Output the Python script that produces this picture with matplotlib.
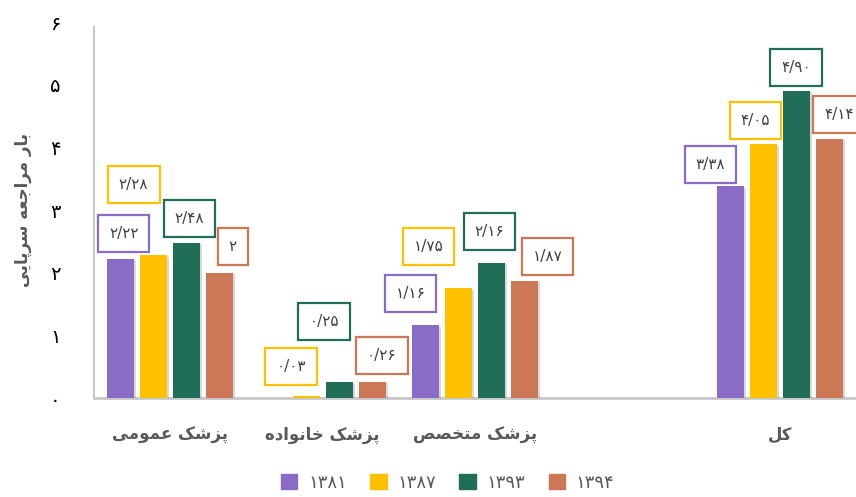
import numpy as np
import matplotlib
matplotlib.use('Agg')
import matplotlib.pyplot as plt
from matplotlib import patheffects
from matplotlib.patches import Patch

# data
categories = ['پزشک عمومی', 'پزشک خانواده', 'پزشک متخصص', '', 'کل']
years = ['۱۳۸۱', '۱۳۸۷', '۱۳۹۳', '۱۳۹۴']
v1381 = [2.22, 0.0, 1.16, 0.0, 3.38]
v1387 = [2.28, 0.03, 1.75, 0.0, 4.05]
v1393 = [2.48, 0.25, 2.16, 0.0, 4.90]
v1394 = [2.00, 0.26, 1.87, 0.0, 4.14]
labels1381 = ['۲/۲۲', '', '۱/۱۶', '', '۳/۳۸']
labels1387 = ['۲/۲۸', '۰/۰۳', '۱/۷۵', '', '۴/۰۵']
labels1393 = ['۲/۴۸', '۰/۲۵', '۲/۱۶', '', '۴/۹۰']
labels1394 = ['۲', '۰/۲۶', '۱/۸۷', '', '۴/۱۴']
ylabel = 'بار مراجعه سرپایی'
yticks = ['۰', '۱', '۲', '۳', '۴', '۵', '۶']

colors = ['#8a6bc6', '#ffc000', '#216e58', '#cc7755']

# label box placement (x offset in px from bar centre, y in data units)
label_pos = [
    [(3, 2.62), None, (-15, 1.66), None, (-20, 3.73)],
    [(-20, 3.40), (-15, 0.51), (-30, 2.42), None, (-8, 4.43)],
    [(3, 2.87), (-15, 1.22), (-2, 2.65), None, (0, 5.27)],
    [(13, 2.41), (10, 0.68), (23, 2.26), None, (10, 4.53)],
]

# minimal persian shaping (matplotlib does not shape arabic script)
forms = {
    'ا': ('\uFE8D', '\uFE8E', None, None),
    'ب': ('\uFE8F', '\uFE90', '\uFE91', '\uFE92'),
    'پ': ('\uFB56', '\uFB57', '\uFB58', '\uFB59'),
    'ت': ('\uFE95', '\uFE96', '\uFE97', '\uFE98'),
    'ج': ('\uFE9D', '\uFE9E', '\uFE9F', '\uFEA0'),
    'خ': ('\uFEA5', '\uFEA6', '\uFEA7', '\uFEA8'),
    'د': ('\uFEA9', '\uFEAA', None, None),
    'ر': ('\uFEAD', '\uFEAE', None, None),
    'ز': ('\uFEAF', '\uFEB0', None, None),
    'س': ('\uFEB1', '\uFEB2', '\uFEB3', '\uFEB4'),
    'ش': ('\uFEB5', '\uFEB6', '\uFEB7', '\uFEB8'),
    'ص': ('\uFEB9', '\uFEBA', '\uFEBB', '\uFEBC'),
    'ع': ('\uFEC9', '\uFECA', '\uFECB', '\uFECC'),
    'ک': ('\uFB8E', '\uFB8F', '\uFB90', '\uFB91'),
    'ل': ('\uFEDD', '\uFEDE', '\uFEDF', '\uFEE0'),
    'م': ('\uFEE1', '\uFEE2', '\uFEE3', '\uFEE4'),
    'ن': ('\uFEE5', '\uFEE6', '\uFEE7', '\uFEE8'),
    'ه': ('\uFEE9', '\uFEEA', '\uFEEB', '\uFEEC'),
    'و': ('\uFEED', '\uFEEE', None, None),
    'ی': ('\uFBFC', '\uFBFD', '\uFBFE', '\uFBFF'),
}


def shape(s):
    out = []
    for i, ch in enumerate(s):
        if ch not in forms:
            out.append(ch)
            continue
        prev = s[i - 1] if i > 0 else ''
        nxt = s[i + 1] if i + 1 < len(s) else ''
        jp = prev in forms and forms[prev][2] is not None
        jn = forms[ch][2] is not None and nxt in forms
        iso, fin, ini, med = forms[ch]
        if jp and jn:
            out.append(med)
        elif jp:
            out.append(fin)
        elif jn:
            out.append(ini)
        else:
            out.append(iso)
    return ''.join(out)[::-1]


plt.rcParams['font.family'] = ['DejaVu Sans']

fig = plt.figure(figsize=(8.56, 4.97), dpi=100)
ax = fig.add_axes([94 / 856, 99 / 497, 762 / 856, 376 / 497])

x = np.arange(len(categories))
step = 33 / 152.5
width = 27 / 152.5
series = [v1381, v1387, v1393, v1394]
all_labels = [labels1381, labels1387, labels1393, labels1394]

for k, vals in enumerate(series):
    xs = x + (k - 1.5) * step
    bars = ax.bar(xs, vals, width, color=colors[k], zorder=3)
    for b in bars:
        b.set_path_effects([patheffects.SimplePatchShadow(offset=(1.5, -1), shadow_rgbFace='#000000', alpha=0.15),
                            patheffects.Normal()])
    for i, lab in enumerate(all_labels[k]):
        if not lab:
            continue
        dx, ly = label_pos[k][i]
        ax.text(xs[i] + dx / 152.5, ly, lab, ha='center', va='center', fontsize=11, color='#404040',
                bbox=dict(boxstyle='square,pad=0.72', fc='white', ec=colors[k], lw=1.6), zorder=5)

ax.set_xlim(-0.5, 4.5)
ax.set_ylim(0, 6)
ax.set_yticks(range(7))
ax.set_yticklabels(yticks, fontsize=14, color='black')
ax.set_xticks(x)
ax.set_xticklabels([shape(c) for c in categories], fontsize=12, fontweight='bold', color='#595959')
ax.tick_params(axis='y', length=0, pad=24)
ax.tick_params(axis='x', length=0, pad=20)
ax.set_ylabel(shape(ylabel), fontsize=12, fontweight='bold', color='#595959', va='center')
ax.yaxis.set_label_coords(-71 / 762, 0.5)

for s in ['top', 'right']:
    ax.spines[s].set_visible(False)
ax.spines['left'].set_color('#c8c8c8')
ax.spines['left'].set_linewidth(1.5)
ax.spines['left'].set_bounds(0, 5.92)
ax.spines['bottom'].set_color('#c8c8c8')
ax.spines['bottom'].set_linewidth(2)

handles = [Patch(color=c, label=y) for c, y in zip(colors, years)]
fig.legend(handles=handles, loc='lower center', bbox_to_anchor=(0.523, -0.022), ncol=4, frameon=False,
           fontsize=13, handlelength=0.9, handleheight=0.9, handletextpad=0.6, columnspacing=1.3,
           labelcolor='#595959')

fig.savefig('out.png', dpi=100)
